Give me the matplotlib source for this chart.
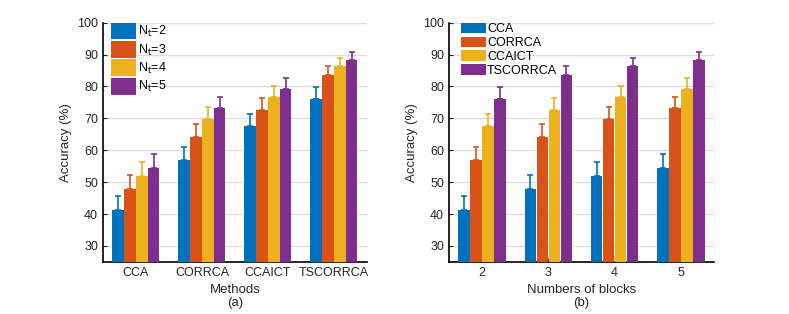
import numpy as np
import matplotlib.pyplot as plt

plt.rcParams['font.family'] = ['Liberation Sans', 'DejaVu Sans']

methods = ["CCA", "CORRCA", "CCAICT", "TSCORRCA"]
blocks = ["2", "3", "4", "5"]
nt_labels = [r"N$_\mathrm{t}$=2", r"N$_\mathrm{t}$=3", r"N$_\mathrm{t}$=4", r"N$_\mathrm{t}$=5"]

# rows = methods, columns = number of blocks
acc = np.array([
    [41.2, 47.8, 52.0, 54.5],
    [56.9, 64.1, 69.7, 73.2],
    [67.5, 72.7, 76.6, 79.3],
    [76.1, 83.6, 86.4, 88.4],
])
err = np.array([
    [4.4, 4.4, 4.3, 4.4],
    [4.2, 4.0, 3.7, 3.5],
    [3.8, 3.6, 3.4, 3.2],
    [3.6, 2.9, 2.6, 2.3],
])

colors = ["#0072BD", "#D95319", "#EDB120", "#7E2F8E"]

fig = plt.figure(figsize=(7.89, 3.14), dpi=100)
ax1 = fig.add_axes([0.1305, 0.166, 0.3346, 0.762])
ax2 = fig.add_axes([0.569, 0.166, 0.336, 0.762])


def grouped(ax, vals, errs, xt, labels, xlabel, tag):
    n = vals.shape[0]
    x = np.arange(1, vals.shape[1] + 1)
    w = 0.172
    for i in range(n):
        pos = x + (i - (n - 1) / 2) * (w + 0.008)
        ax.bar(pos, vals[i], w, color=colors[i], label=labels[i], zorder=3)
        ax.errorbar(pos, vals[i], yerr=[np.zeros(len(pos)), errs[i]], fmt="none",
                    ecolor=colors[i], elinewidth=1.2, capsize=2.2, capthick=1.2, zorder=3)
    ax.set_xlim(0.5, 4.5)
    ax.set_ylim(25, 100)
    ax.set_yticks(range(30, 101, 10))
    ax.set_xticks(x)
    ax.set_xticklabels(xt)
    ax.grid(axis="y", color="#dddddd", linewidth=1, zorder=0)
    ax.spines["top"].set_visible(False)
    ax.spines["right"].set_visible(False)
    ax.spines["left"].set_linewidth(1.2)
    ax.spines["bottom"].set_linewidth(1.2)
    ax.tick_params(direction="in", labelsize=9, length=3, colors="#262626")
    ax.set_ylabel("Accuracy (%)", fontsize=9.5, color="#262626")
    ax.set_xlabel(xlabel + "\n(" + tag + ")", fontsize=9.5, color="#262626", linespacing=1.1)


grouped(ax1, acc.T, err.T, methods, nt_labels, "Methods", "a")
grouped(ax2, acc, err, blocks, methods, "Numbers of blocks", "b")

ax1.legend(loc="upper left", bbox_to_anchor=(0.03, 1.0), fontsize=9, frameon=False,
           handlelength=2.0, handleheight=1.7, handletextpad=0.2, labelspacing=0.12,
           borderaxespad=0, borderpad=0)
ax2.legend(loc="upper left", bbox_to_anchor=(0.045, 1.0), fontsize=9, frameon=False,
           handlelength=2.0, handleheight=0.95, handletextpad=0.1, labelspacing=0.1,
           borderaxespad=0, borderpad=0)

fig.savefig("out.png", dpi=100)
